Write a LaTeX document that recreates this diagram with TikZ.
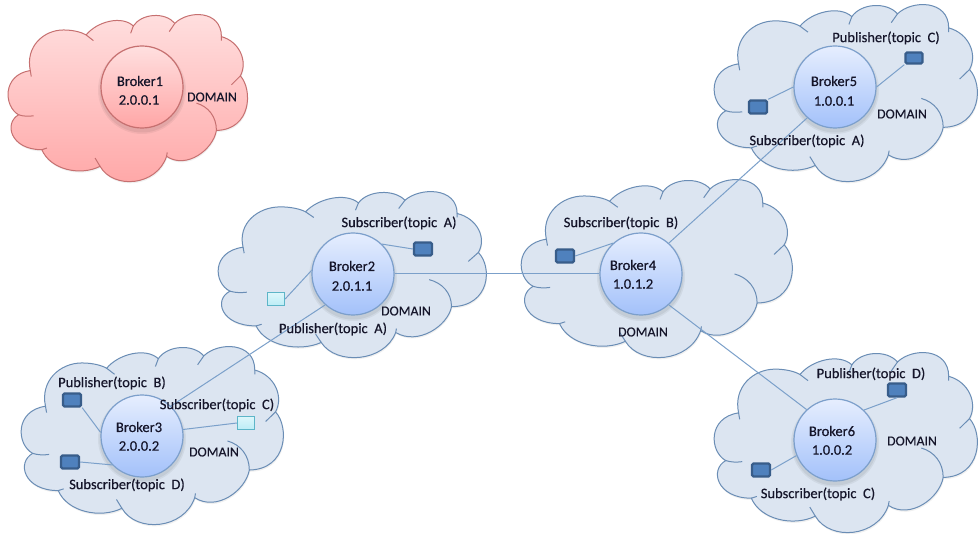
\documentclass[tikz,border=0pt]{standalone}
\usepackage{fontspec}
\setmainfont{Carlito}[FakeBold=0.35]
\definecolor{cloudfill}{HTML}{DCE5F1}
\definecolor{cloudline}{HTML}{6A8DB5}
\definecolor{redtop}{HTML}{FFE0E0}
\definecolor{redbot}{HTML}{FFA6A6}
\definecolor{redline}{HTML}{C67070}
\definecolor{balltop}{HTML}{E6EEFE}
\definecolor{ballbot}{HTML}{A3C1FA}
\definecolor{ballline}{HTML}{7C9FCB}
\definecolor{linkcol}{HTML}{7BA0CA}
\definecolor{devfill}{HTML}{4F81BD}
\definecolor{devline}{HTML}{385D8A}
\definecolor{lighttop}{HTML}{DDF6FB}
\definecolor{lightbot}{HTML}{BCEDF6}
\definecolor{lightline}{HTML}{5DB5C8}
\definecolor{inkcol}{HTML}{15152A}
\tikzset{
 bluecloud/.style={draw=cloudline,fill=cloudfill,line width=1pt},
 redcloud/.style={draw=redline,top color=redtop,bottom color=redbot,line width=1pt},
 brokerball/.style={circle,minimum size=82pt,inner sep=0pt,draw=ballline,line width=1.2pt,top color=balltop,bottom color=ballbot},
 redball/.style={circle,minimum size=82pt,inner sep=0pt,draw=redline,line width=1.2pt,top color=redtop,bottom color=redbot},
 darkdev/.style={rectangle,rounded corners=1.5pt,minimum width=18pt,minimum height=13pt,inner sep=0pt,fill=devfill,draw=devline,line width=2.4pt},
 lightdev/.style={rectangle,minimum width=17pt,minimum height=13pt,inner sep=0pt,top color=lighttop,bottom color=lightbot,draw=lightline,line width=1.3pt},
 linkline/.style={draw=linkcol,line width=1pt},
 lbl/.style={font=\fontsize{14.5pt}{17pt}\selectfont,text=inkcol,inner sep=0pt},
 domlbl/.style={font=\fontsize{13.8pt}{16pt}\selectfont,text=inkcol,inner sep=0pt},
}
% #1 x, #2 y, #3 width, #4 height, #5 outline style, #6 colour of the inner strokes
\newcommand{\cloudat}[6]{%
 \begin{scope}[shift={(#1,#2)},xscale=#3/728,yscale=#4/502,shift={(-20,-45)}]
  \fill[black,opacity=.06] (57,350) .. controls (12,325) and (7,230) .. (92,217)
   .. controls (77,145) and (132,95) .. (192,95) .. controls (222,95) and (247,102) .. (260,110)
   .. controls (292,70) and (367,50) .. (402,83) .. controls (427,45) and (497,40) .. (527,75)
   .. controls (567,35) and (667,35) .. (667,115) .. controls (722,130) and (747,190) .. (724,233)
   .. controls (762,275) and (757,395) .. (652,397) .. controls (642,455) and (562,515) .. (502,475)
   .. controls (472,565) and (342,575) .. (302,505) .. controls (242,535) and (152,515) .. (127,455)
   .. controls (32,455) and (12,375) .. (57,350) -- cycle;
  \path[#5] (55,345) .. controls (10,320) and (5,225) .. (90,212)
   .. controls (75,140) and (130,90) .. (190,90) .. controls (220,90) and (245,97) .. (258,105)
   .. controls (290,65) and (365,45) .. (400,78) .. controls (425,40) and (495,35) .. (525,70)
   .. controls (565,30) and (665,30) .. (665,110) .. controls (720,125) and (745,185) .. (722,228)
   .. controls (760,270) and (755,390) .. (650,392) .. controls (640,450) and (560,510) .. (500,470)
   .. controls (470,560) and (340,570) .. (300,500) .. controls (240,530) and (150,510) .. (125,450)
   .. controls (30,450) and (10,370) .. (55,345) -- cycle;
  \draw[#6,line width=1pt]
   (55,345) .. controls (70,350) and (85,350) .. (100,348)
   (90,212) -- (93,230)
   (258,105) -- (280,122)
   (400,78) -- (392,100)
   (525,70) -- (508,95)
   (665,110) -- (665,122)
   (722,228) -- (695,255)
   (650,392) .. controls (650,350) and (625,320) .. (590,310)
   (500,470) -- (502,458)
   (300,500) -- (285,475)
   (125,450) -- (140,445);
 \end{scope}}
\newcommand{\ballshadow}[2]{%
 \fill[black,opacity=.05] (#1,#2+3) circle[radius=44];
 \fill[black,opacity=.06] (#1,#2+3) circle[radius=42.5];}
\begin{document}
\begin{tikzpicture}[x=1pt,y=-1pt]
\useasboundingbox (0,0) rectangle (979,534);
\fill[white] (0,0) rectangle (979,534);
% clouds
\cloudat{7}{15}{242}{167}{redcloud}{redline}
\cloudat{217}{192}{271}{166}{bluecloud}{cloudline}
\cloudat{20}{347}{265}{178}{bluecloud}{cloudline}
\cloudat{520}{180}{274}{178}{bluecloud}{cloudline}
\cloudat{713}{5}{266}{177}{bluecloud}{cloudline}
\cloudat{713}{353}{266}{180}{bluecloud}{cloudline}
% shadows of the balls
\ballshadow{142}{87}\ballshadow{353}{274}\ballshadow{142}{436}
\ballshadow{641}{274}\ballshadow{835}{87}\ballshadow{835}{440}
% brokers
\node[redball] (b1) at (142,87) {};
\node[brokerball] (b2) at (353,274) {};
\node[brokerball] (b3) at (142,436) {};
\node[brokerball] (b4) at (641,274) {};
\node[brokerball] (b5) at (835,87) {};
\node[brokerball] (b6) at (835,440) {};
% devices
\node[darkdev] (d2a) at (423,249) {};
\node[lightdev] (d2b) at (276,299) {};
\node[darkdev] (d3a) at (72,400) {};
\node[darkdev] (d3b) at (70,462) {};
\node[lightdev] (d3c) at (246,423) {};
\node[darkdev] (d4a) at (565,256) {};
\node[darkdev] (d5a) at (758,107) {};
\node[darkdev,minimum width=17pt,minimum height=11pt] (d5b) at (914,58) {};
\node[darkdev] (d6a) at (897,390) {};
\node[darkdev] (d6b) at (761,470) {};
% connectors
\draw[linkline] (b2) -- (b4);
\draw[linkline] (b2.228) -- (b3.46);
\draw[linkline] (b4.48) -- (b5.228);
\draw[linkline] (b4.-48) -- (b6.133);
\draw[linkline] (b2.46) -- (d2a.west);
\draw[linkline] (b2.175) -- (d2b.east);
\draw[linkline] (b3.175) -- (d3a.south east);
\draw[linkline] (b3.224) -- (d3b.east);
\draw[linkline] (b3.9) -- (d3c.west);
\draw[linkline] (b4.132) -- (d4a.east);
\draw[linkline] (b5.180) -- (d5a.north east);
\draw[linkline] (b5.0) -- (d5b.south west);
\draw[linkline] (b6.46) -- (d6a.south);
\draw[linkline] (b6.202) -- (d6b.east);
% labels
\node[lbl] (t1a) at (140,81) {Broker1};
\node[lbl] (t1b) at (139,100) {2.0.0.1};
\node[domlbl] (t1c) at (212,97) {DOMAIN};
\node[lbl] (t2a) at (352,266) {Broker2};
\node[lbl] (t2b) at (352,286) {2.0.1.1};
\node[lbl] (t2c) at (399,223) {Subscriber(topic\ \ A)};
\node[lbl] (t2d) at (333,329) {Publisher(topic\ \ A)};
\node[domlbl] (t2e) at (406,311) {DOMAIN};
\node[lbl] (t3a) at (139,427) {Broker3};
\node[lbl] (t3b) at (139,446) {2.0.0.2};
\node[lbl] (t3c) at (112,383) {Publisher(topic\ \ B)};
\node[lbl] (t3d) at (217,405) {Subscriber(topic\ \ C)};
\node[lbl] (t3e) at (127,485) {Subscriber(topic\ \ D)};
\node[domlbl] (t3f) at (214,452) {DOMAIN};
\node[lbl] (t4a) at (633,265) {Broker4};
\node[lbl] (t4b) at (633,284) {1.0.1.2};
\node[lbl] (t4c) at (621,223) {Subscriber(topic\ \ B)};
\node[domlbl] (t4d) at (643,332) {DOMAIN};
\node[lbl] (t5a) at (834,81) {Broker5};
\node[lbl] (t5b) at (834,101) {1.0.0.1};
\node[lbl] (t5c) at (886,38) {Publisher(topic\ \ C)};
\node[lbl] (t5d) at (807,141) {Subscriber(topic\ \ A)};
\node[domlbl] (t5e) at (902,114) {DOMAIN};
\node[lbl] (t6a) at (832,431) {Broker6};
\node[lbl] (t6b) at (832,450) {1.0.0.2};
\node[lbl] (t6c) at (871,374) {Publisher(topic\ \ D)};
\node[lbl] (t6d) at (818,494) {Subscriber(topic\ \ C)};
\node[domlbl] (t6e) at (912,441) {DOMAIN};
\end{tikzpicture}
\end{document}
